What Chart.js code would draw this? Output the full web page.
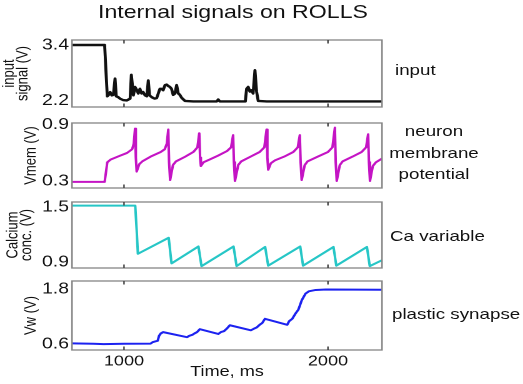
<!DOCTYPE html>
<html>
<head>
<meta charset="utf-8">
<script src="https://cdn.jsdelivr.net/npm/chart.js@4.4.0/dist/chart.umd.min.js"></script>
<style>
  html, body { margin: 0; padding: 0; background: #fff; }
  /* the original figure is stretched sideways, so the whole thing is drawn narrow and scaled */
  #fig { position: absolute; left: 0; top: 0; width: 418.4px; height: 384px;
         transform: scaleX(1.25); transform-origin: 0 0;
         font-family: "Liberation Sans", Arial, sans-serif; color: #111; }
  .panel { position: absolute; left: 0; width: 312px; }
  .lbl { position: absolute; font-size: 15px; line-height: 21.5px; white-space: nowrap; }
  #title { position: absolute; left: 0; top: 0; width: 372.8px; text-align: center;
           font-size: 18.5px; line-height: 24px; }
</style>
</head>
<body>
<div id="fig">
  <div id="title">Internal signals on ROLLS</div>
  <div class="panel" style="top:32px;height:83px"><canvas id="p1"></canvas></div>
  <div class="panel" style="top:115px;height:81px"><canvas id="p2"></canvas></div>
  <div class="panel" style="top:194px;height:82px"><canvas id="p3"></canvas></div>
  <div class="panel" style="top:273px;height:111px"><canvas id="p4"></canvas></div>
  <div class="lbl" style="left:316px;top:59.25px">input</div>
  <div class="lbl" style="left:297.2px;width:100px;text-align:center;top:120.25px">neuron<br>membrane<br>potential</div>
  <div class="lbl" style="left:312px;top:225.25px">Ca variable</div>
  <div class="lbl" style="left:313.6px;top:303.25px">plastic synapse</div>
</div>
<script>
// time axis (ms)
const timeRange = [745, 2265];
const timeTicks = [1000, 2000];

// input signal (V)
const inputSignal = [[745,3.4],[905,3.4],[912,2.8],[918,2.3],[925,2.33],[932,2.39],[940,2.32],[948,2.33],
  [956,2.68],[962,2.3],[972,2.28],[980,2.25],[995,2.22],[1013,2.21],[1030,2.25],[1036,2.76],[1042,2.5],
  [1046,2.32],[1054,2.5],[1062,2.44],[1070,2.36],[1078,2.46],[1086,2.36],[1094,2.39],[1103,2.32],[1112,2.3],
  [1119,2.64],[1125,2.32],[1136,2.28],[1150,2.25],[1160,2.26],[1176,2.46],[1184,2.46],[1192,2.43],[1201,2.54],
  [1209,2.55],[1217,2.52],[1225,2.5],[1233,2.46],[1241,2.33],[1250,2.36],[1258,2.54],[1266,2.36],[1274,2.33],
  [1282,2.27],[1299,2.2],[1340,2.19],[1455,2.19],[1462,2.23],[1469,2.19],[1595,2.19],[1601,2.46],[1609,2.5],
  [1617,2.4],[1625,2.43],[1633,2.36],[1642,2.86],[1650,2.4],[1658,2.2],[1700,2.19],[2265,2.19]];
const inputTicks = [2.2, 3.4];

// neuron membrane potential Vmem (V)
const vmem = [[745,0.29],[905,0.29],[912,0.40],[918,0.50],[935,0.53],[980,0.57],[1015,0.60],[1040,0.64],
  [1048,0.70],[1054,0.86],[1058,0.55],[1062,0.40],
  [1075,0.48],[1090,0.51],[1130,0.56],[1180,0.61],[1200,0.64],[1210,0.70],[1217,0.85],[1221,0.50],[1226,0.31],
  [1240,0.47],[1255,0.51],[1300,0.56],[1340,0.61],[1360,0.66],[1369,0.81],[1373,0.55],[1377,0.46],
  [1390,0.50],[1420,0.53],[1460,0.57],[1505,0.62],[1525,0.66],[1535,0.79],[1539,0.50],[1544,0.30],
  [1560,0.47],[1575,0.51],[1620,0.56],[1665,0.61],[1688,0.66],[1699,0.85],[1703,0.55],[1707,0.42],
  [1720,0.49],[1740,0.52],[1785,0.56],[1830,0.61],[1852,0.66],[1862,0.79],[1866,0.50],[1871,0.31],
  [1886,0.47],[1900,0.51],[1950,0.56],[2000,0.61],[2022,0.66],[2034,0.87],[2038,0.50],[2043,0.30],
  [2058,0.47],[2072,0.51],[2120,0.56],[2165,0.61],[2187,0.66],[2197,0.80],[2201,0.50],[2206,0.30],
  [2220,0.46],[2235,0.50],[2265,0.54]];
const vmemTicks = [0.3, 0.9];

// calcium concentration (V)
const calcium = [[745,1.515],[1055,1.515],[1062,1.25],[1068,0.99],[1219,1.165],[1233,0.885],[1365,1.07],
  [1380,0.855],[1537,1.07],[1552,0.855],[1692,1.065],[1707,0.86],[1864,1.07],[1878,0.86],[2027,1.065],
  [2041,0.86],[2191,1.065],[2205,0.855],[2265,0.92]];
const calciumTicks = [0.9, 1.5];

// plastic synapse weight Vw (V)
const vw = [[745,0.615],[850,0.605],[900,0.598],[1000,0.605],[1130,0.61],[1140,0.64],[1155,0.66],[1165,0.67],
  [1172,0.78],[1180,0.83],[1192,0.86],[1309,0.75],[1320,0.78],[1335,0.80],[1345,0.83],[1358,0.86],[1372,0.925],
  [1462,0.82],[1475,0.86],[1490,0.88],[1505,0.94],[1519,1.01],[1622,0.9],[1635,0.93],[1650,0.96],[1665,1.02],
  [1678,1.06],[1691,1.15],[1800,1.02],[1810,1.1],[1825,1.15],[1840,1.26],[1855,1.35],[1872,1.56],[1890,1.70],
  [1906,1.75],[1940,1.78],[1990,1.79],[2265,1.785]];
const vwTicks = [0.6, 1.8];

const FONT = '"Liberation Sans", Arial, sans-serif';

// grey box round each plot plus the little inner ticks at 1000 / 2000
const framePlugin = {
  id: 'frame',
  afterDatasetsDraw(chart) {
    const {ctx, chartArea: a} = chart;
    const x = chart.scales.x;
    ctx.save();
    ctx.strokeStyle = '#858585';
    ctx.lineWidth = 1.3;
    ctx.strokeRect(a.left, a.top, a.right - a.left, a.bottom - a.top);
    ctx.strokeStyle = '#444';
    ctx.lineWidth = 1.2;
    timeTicks.forEach(t => {
      const px = x.getPixelForValue(t);
      ctx.beginPath();
      ctx.moveTo(px, a.top); ctx.lineTo(px, a.top + 3.5);
      ctx.moveTo(px, a.bottom); ctx.lineTo(px, a.bottom - 3.5);
      ctx.stroke();
    });
    ctx.restore();
  }
};

function makePanel(id, points, color, lineW, yMin, yMax, yTicks, yTitle, titlePad, showX) {
  return new Chart(document.getElementById(id), {
    type: 'line',
    data: {
      datasets: [{
        data: points.map(([x, y]) => ({x, y})),
        borderColor: color,
        borderWidth: lineW,
        pointRadius: 0,
        tension: 0,
        borderJoinStyle: 'round'
      }]
    },
    options: {
      responsive: true,
      maintainAspectRatio: false,
      animation: false,
      devicePixelRatio: 2,
      layout: { padding: { left: 0, right: 6.4, top: 8, bottom: showX ? 0 : 8 } },
      plugins: { legend: { display: false }, tooltip: { enabled: false } },
      scales: {
        x: {
          type: 'linear',
          min: timeRange[0], max: timeRange[1],
          display: showX,
          grid: { display: false, drawTicks: false },
          border: { display: false },
          afterBuildTicks: s => { s.ticks = timeTicks.map(v => ({value: v})); },
          afterFit: s => {
            if (showX) s.height = 34;
            s.paddingLeft = 0; s.paddingRight = 0;
          },
          ticks: { color: '#111', font: { family: FONT, size: 14.5 }, padding: 3, maxRotation: 0,
                   callback: v => String(v) },
          title: { display: true, text: 'Time, ms', color: '#111',
                   font: { family: FONT, size: 14.5 }, padding: { top: 0, bottom: 3.3 } }
        },
        y: {
          min: yMin, max: yMax,
          grid: { display: false, drawTicks: false },
          border: { display: false },
          afterBuildTicks: s => { s.ticks = yTicks.map(v => ({value: v})); },
          afterFit: s => { s.width = 57.6; s.paddingTop = 0; s.paddingBottom = 0; },
          ticks: { color: '#111', font: { family: FONT, size: 15.5 }, padding: 2.4,
                   callback: v => v.toFixed(1) },
          title: { display: true, text: yTitle, color: '#111',
                   font: { family: FONT, size: 13, lineHeight: 0.86 }, padding: { top: titlePad, bottom: 0 } }
        }
      }
    },
    plugins: [framePlugin]
  });
}

makePanel('p1', inputSignal, '#111', 2.4, 2.07, 3.507, inputTicks, ['input', 'signal (V)'], 1.6, false);
makePanel('p2', vmem, '#c414c4', 2, 0.225, 0.92, vmemTicks, 'Vmem (V)', 19.2, false);
makePanel('p3', calcium, '#26c6c6', 2, 0.835, 1.555, calciumTicks, ['Calcium', 'conc. (V)'], 4.8, false);
makePanel('p4', vw, '#1c22f0', 2, 0.47, 1.975, vwTicks, 'Vw (V)', 19.2, true);
</script>
</body>
</html>
